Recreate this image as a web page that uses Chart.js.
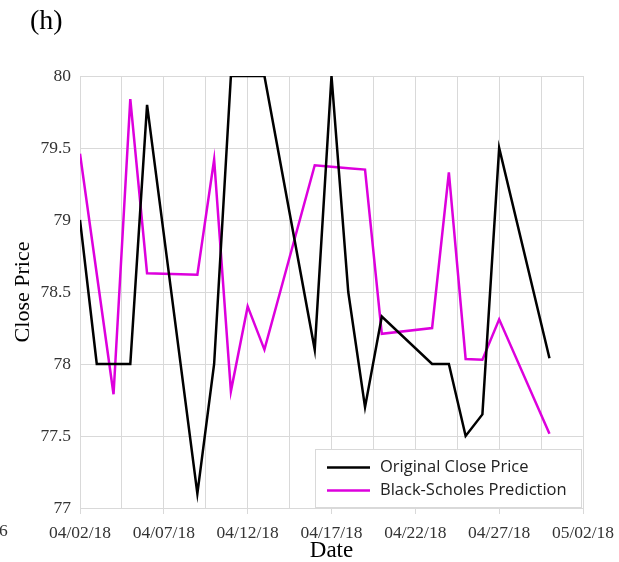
<!DOCTYPE html>
<html>
<head>
<meta charset="utf-8">
<script src="https://cdn.jsdelivr.net/npm/chart.js@4.4.0/dist/chart.umd.min.js"></script>
<style>
  html, body { margin: 0; padding: 0; background: #fff; }
  #wrap { width: 619px; height: 562px; }
</style>
</head>
<body>
<div id="wrap"><canvas id="myChart" width="619" height="562"></canvas></div>
<script>
// trading days shown in the chart
const dates = [
  "04/02/18", "04/03/18", "04/04/18", "04/05/18", "04/06/18",
  "04/09/18", "04/10/18", "04/11/18", "04/12/18", "04/13/18",
  "04/16/18", "04/17/18", "04/18/18", "04/19/18", "04/20/18",
  "04/23/18", "04/24/18", "04/25/18", "04/26/18", "04/27/18",
  "04/30/18"
];

// original close price
const closePrice = [
  79.0, 78.0, 78.0, 78.0, 79.8,
  77.1, 78.0, 80.0, 80.0, 80.0,
  78.1, 80.0, 78.5, 77.7, 78.33,
  78.0, 78.0, 77.5, 77.65, 79.5,
  78.04
];

// black-scholes prediction
const bsPrediction = [
  79.46, null, 77.79, 79.84, 78.63,
  78.62, 79.42, 77.81, 78.4, 78.1,
  79.38, 79.37, 79.36, 79.35, 78.21,
  78.25, 79.33, 78.035, 78.03, 78.31,
  77.515
];

// x axis labels, one every 5 days starting 04/02/18
const tickLabels = ["04/02/18", "04/07/18", "04/12/18", "04/17/18", "04/22/18", "04/27/18", "05/02/18"];

// days since the first date
function dayOffset(str) {
  const [m, d, y] = str.split("/").map(Number);
  const t = Date.UTC(2000 + y, m - 1, d);
  const t0 = Date.UTC(2018, 3, 2);
  return Math.round((t - t0) / 86400000);
}

function toPoints(values) {
  return dates.map((d, i) => ({ x: dayOffset(d), y: values[i] }));
}

const serif = "'Liberation Serif', 'DejaVu Serif', serif";
const sans = "'Open Sans', 'Liberation Sans', sans-serif";

// title "(h)", the cut-off label on the left and the boxed legend
const extras = {
  id: "extras",
  afterDatasetsDraw(chart) {
    const c = chart.ctx;
    c.save();

    c.fillStyle = "#000";
    c.font = "28px " + serif;
    c.textBaseline = "middle";
    c.textAlign = "left";
    c.fillText("(h)", 30, 22);

    c.fillStyle = "#333";
    c.font = "17.5px " + serif;
    c.fillText("6", -1, 531);

    // legend box
    const lx = 315.5, ly = 449.5, lw = 266, lh = 58;
    c.fillStyle = "#fff";
    c.fillRect(lx, ly, lw, lh);
    c.strokeStyle = "#d9d9d9";
    c.lineWidth = 1;
    c.strokeRect(lx, ly, lw, lh);

    c.font = "16.5px " + sans;
    c.textBaseline = "middle";
    chart.data.datasets.forEach((ds, i) => {
      const y = 467.5 + i * 23;
      c.strokeStyle = ds.borderColor;
      c.lineWidth = 2.5;
      c.beginPath();
      c.moveTo(327, y);
      c.lineTo(370, y);
      c.stroke();
      c.fillStyle = "#222";
      c.fillText(ds.label, 380, y);
    });
    c.restore();
  }
};

const ctx = document.getElementById("myChart");

new Chart(ctx, {
  type: "line",
  data: {
    datasets: [
      {
        label: "Original Close Price",
        data: toPoints(closePrice),
        borderColor: "#000000",
        borderWidth: 2.5,
        pointRadius: 0,
        tension: 0,
        spanGaps: true
      },
      {
        label: "Black-Scholes Prediction",
        data: toPoints(bsPrediction),
        borderColor: "#dd00dd",
        borderWidth: 2.5,
        pointRadius: 0,
        tension: 0,
        spanGaps: true
      }
    ]
  },
  options: {
    responsive: false,
    animation: false,
    layout: { padding: { top: 76, right: 36, left: 0, bottom: 0 } },
    plugins: {
      legend: { display: false },
      tooltip: { enabled: false }
    },
    scales: {
      x: {
        type: "linear",
        min: 0,
        max: 30,
        afterFit(scale) {
          scale.height = 54;
          scale.paddingLeft = 0;
          scale.paddingRight = 0;
        },
        ticks: {
          stepSize: 2.5,
          autoSkip: false,
          maxRotation: 0,
          padding: 9,
          color: "#333",
          font: { family: serif, size: 17.5 },
          callback: (v) => (v % 5 === 0 ? tickLabels[v / 5] : "")
        },
        grid: {
          color: "#d9d9d9",
          tickLength: 6,
          tickColor: (c) => (c.tick && c.tick.value % 5 === 0 ? "#d9d9d9" : "rgba(0,0,0,0)")
        },
        border: { color: "#d9d9d9" },
        title: {
          display: true,
          text: "Date",
          color: "#000",
          font: { family: serif, size: 23, lineHeight: 1 },
          padding: { top: 0, bottom: 0 }
        }
      },
      y: {
        min: 77,
        max: 80,
        afterFit(scale) { scale.width = 80; },
        ticks: {
          stepSize: 0.5,
          padding: 9,
          color: "#333",
          font: { family: serif, size: 17.5 },
          callback: (v) => String(v)
        },
        grid: { color: "#d9d9d9", drawTicks: false },
        border: { color: "#d9d9d9" },
        title: {
          display: true,
          text: "Close Price",
          color: "#000",
          font: { family: serif, size: 22 },
          padding: { top: 10, bottom: 0 }
        }
      }
    }
  },
  plugins: [extras]
});
</script>
</body>
</html>
